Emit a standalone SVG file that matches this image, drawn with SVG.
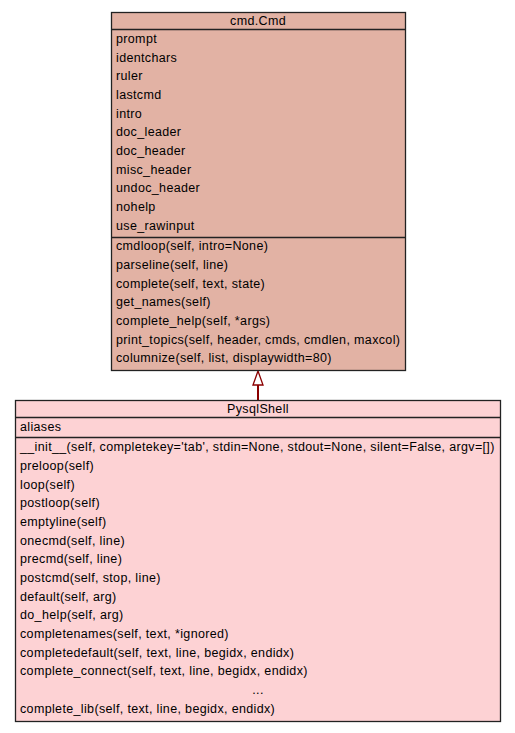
<svg xmlns="http://www.w3.org/2000/svg" width="515" height="733" viewBox="0 0 515 733">
<style>
text{font-family:"Liberation Sans",Arial,sans-serif;font-size:12.5px;letter-spacing:0.35px;fill:#000}
.c{text-anchor:middle}
.box{stroke:#222;stroke-width:1.3}
.sep{stroke:#222;stroke-width:1.3}
</style>
<rect width="515" height="733" fill="#fff"/>
<g id="connectors">
<line x1="258" y1="400" x2="258" y2="385" stroke="#8b0000" stroke-width="2"/>
<path d="M253,385 L258,371 L263,385 Z" fill="#fff" stroke="#8b0000" stroke-width="1.3"/>
</g>
<g id="cmd.Cmd">
<rect class="box" x="111.5" y="12.5" width="294" height="358" fill="#e2b2a4"/>
<line class="sep" x1="111.5" y1="29.5" x2="405.5" y2="29.5"/>
<line class="sep" x1="111.5" y1="237.5" x2="405.5" y2="237.5"/>
<text class="c" x="258" y="25">cmd.Cmd</text>
<text x="116" y="43">prompt</text>
<text x="116" y="62">identchars</text>
<text x="116" y="80">ruler</text>
<text x="116" y="99">lastcmd</text>
<text x="116" y="118">intro</text>
<text x="116" y="136">doc_leader</text>
<text x="116" y="155">doc_header</text>
<text x="116" y="174">misc_header</text>
<text x="116" y="192">undoc_header</text>
<text x="116" y="211">nohelp</text>
<text x="116" y="230">use_rawinput</text>
<text x="116" y="250">cmdloop(self, intro=None)</text>
<text x="116" y="269">parseline(self, line)</text>
<text x="116" y="288">complete(self, text, state)</text>
<text x="116" y="306">get_names(self)</text>
<text x="116" y="325">complete_help(self, *args)</text>
<text x="116" y="344">print_topics(self, header, cmds, cmdlen, maxcol)</text>
<text x="116" y="362">columnize(self, list, displaywidth=80)</text>
</g>
<g id="PysqlShell">
<rect class="box" x="15.5" y="400.5" width="485" height="321" fill="#fdd2d4"/>
<line class="sep" x1="15.5" y1="417.5" x2="500.5" y2="417.5"/>
<line class="sep" x1="15.5" y1="437.5" x2="500.5" y2="437.5"/>
<text class="c" x="258" y="413">PysqlShell</text>
<text x="20" y="431">aliases</text>
<text x="20" y="451">__init__(self, completekey='tab', stdin=None, stdout=None, silent=False, argv=[])</text>
<text x="20" y="470">preloop(self)</text>
<text x="20" y="489">loop(self)</text>
<text x="20" y="507">postloop(self)</text>
<text x="20" y="526">emptyline(self)</text>
<text x="20" y="545">onecmd(self, line)</text>
<text x="20" y="563">precmd(self, line)</text>
<text x="20" y="582">postcmd(self, stop, line)</text>
<text x="20" y="601">default(self, arg)</text>
<text x="20" y="619">do_help(self, arg)</text>
<text x="20" y="638">completenames(self, text, *ignored)</text>
<text x="20" y="657">completedefault(self, text, line, begidx, endidx)</text>
<text x="20" y="675">complete_connect(self, text, line, begidx, endidx)</text>
<text class="c" x="258" y="694">...</text>
<text x="20" y="713">complete_lib(self, text, line, begidx, endidx)</text>
</g>
</svg>
